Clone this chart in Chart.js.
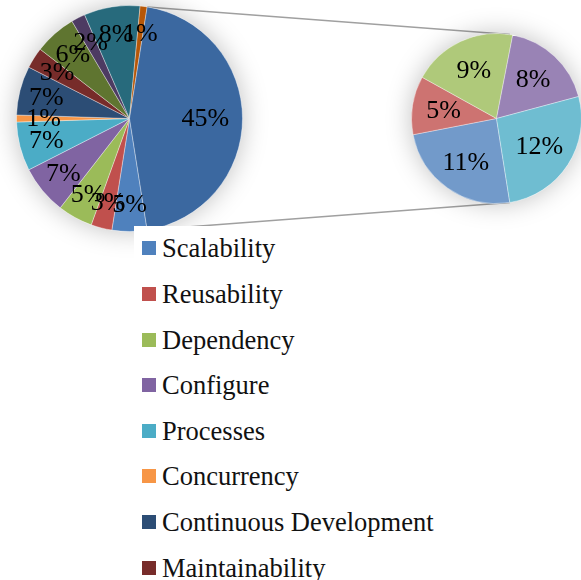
<!DOCTYPE html>
<html>
<head>
<meta charset="utf-8">
<script src="https://cdn.jsdelivr.net/npm/chart.js@4/dist/chart.umd.min.js"></script>
<style>
html, body { margin:0; padding:0; background:#fff; overflow:hidden; }
#marco { position:relative; width:581px; height:580px; overflow:hidden; }
canvas { position:absolute; }
#lineas { left:0; top:0; z-index:1; }
#pie1 { left:0; top:0; z-index:2; }
#pie2 { left:365px; top:0; z-index:2; }
#leyenda { position:absolute; left:134px; top:226px; width:330px; height:400px; background:#fff; z-index:3;
  font-family:'Liberation Serif','Times New Roman',serif; font-size:26.5px; color:#111; }
.item { position:absolute; left:0; height:30px; line-height:30px; white-space:nowrap; }
.caja { position:absolute; left:8px; top:8px; width:14px; height:14px; }
.texto { position:absolute; left:28px; top:0; }
</style>
</head>
<body>
<div id="marco">
  <canvas id="lineas" width="581" height="580"></canvas>
  <canvas id="pie1" width="300" height="260"></canvas>
  <canvas id="pie2" width="240" height="260"></canvas>
  <div id="leyenda"></div>
</div>
<script>
// categorias del pie principal (las que no se leen en la imagen quedan sin nombre)
const categorias = ['Scalability', 'Reusability', 'Dependency', 'Configure', 'Processes', 'Concurrency',
  'Continuous Development', 'Maintainability', '', '', '', ''];
const valores = [5, 3, 5, 7, 7, 1, 7, 3, 6, 2, 8, 1];
const colores = ['#4F81BD', '#C0504D', '#9BBB59', '#8064A2', '#4BACC6', '#F79646',
  '#2C4D75', '#772C2A', '#5F7530', '#4D3B62', '#276A7C', '#B65708'];

// segundo pie (desglose de "Other")
const categorias2 = ['', '', '', '', ''];
const valores2 = [11, 5, 9, 8, 12];
const colores2 = ['#729ACA', '#CD7371', '#AFC97A', '#9983B5', '#6FBDD1'];

const colorOtro = '#3B68A0';
const otro = valores2.reduce((a, b) => a + b, 0);
const total = valores.reduce((a, b) => a + b, 0) + otro;

const sombra = {
  id: 'sombra',
  beforeDatasetsDraw(chart) {
    const arc = chart.getDatasetMeta(0).data[0];
    const ctx = chart.ctx;
    ctx.save();
    ctx.shadowColor = 'rgba(0,0,0,0.25)';
    ctx.shadowBlur = 26;
    ctx.fillStyle = '#fff';
    ctx.beginPath();
    ctx.arc(arc.x, arc.y, arc.outerRadius, 0, Math.PI * 2);
    ctx.fill();
    ctx.restore();
  }
};

const etiquetas = {
  id: 'etiquetas',
  afterDatasetsDraw(chart, args, opts) {
    const ctx = chart.ctx;
    const meta = chart.getDatasetMeta(0);
    ctx.save();
    ctx.font = '26px "Liberation Serif"';
    ctx.fillStyle = '#000';
    ctx.textAlign = 'center';
    ctx.textBaseline = 'middle';
    meta.data.forEach((arc, i) => {
      const v = chart.data.datasets[0].data[i];
      const pct = Math.round(v / total * 100);
      const medio = (arc.startAngle + arc.endAngle) / 2;
      const f = (arc.endAngle - arc.startAngle) > Math.PI / 2 ? opts.grande : opts.radio;
      const x = arc.x + Math.cos(medio) * arc.outerRadius * f;
      const y = arc.y + Math.sin(medio) * arc.outerRadius * f;
      ctx.fillText(pct + '%', x, y + 1);
    });
    ctx.restore();
  }
};

const grafico1 = new Chart(document.getElementById('pie1'), {
  type: 'pie',
  data: {
    labels: [...categorias, 'Other'],
    datasets: [{
      data: [...valores, otro],
      backgroundColor: [...colores, colorOtro],
      borderColor: 'rgba(255,255,255,0.35)',
      borderWidth: 1
    }]
  },
  options: {
    responsive: false,
    animation: false,
    rotation: 171,
    layout: { padding: { left: 16, top: 5, right: 57, bottom: 28 } },
    plugins: {
      legend: { display: false },
      tooltip: { enabled: false },
      etiquetas: { radio: 0.76, grande: 0.67 }
    }
  },
  plugins: [sombra, etiquetas]
});

const grafico2 = new Chart(document.getElementById('pie2'), {
  type: 'pie',
  data: {
    labels: categorias2,
    datasets: [{
      data: valores2,
      backgroundColor: colores2,
      borderColor: 'rgba(255,255,255,0.35)',
      borderWidth: 1
    }]
  },
  options: {
    responsive: false,
    animation: false,
    rotation: 171,
    layout: { padding: { left: 46, top: 33, right: 23, bottom: 56 } },
    plugins: {
      legend: { display: false },
      tooltip: { enabled: false },
      etiquetas: { radio: 0.63, grande: 0.6 }
    }
  },
  plugins: [sombra, etiquetas]
});

// lineas que unen la porcion "Other" con el segundo pie
function dibujarConectores() {
  const ctx = document.getElementById('lineas').getContext('2d');
  const m1 = grafico1.getDatasetMeta(0).data;
  const arcOtro = m1[m1.length - 1];
  const arc2 = grafico2.getDatasetMeta(0).data[0];
  const c1 = grafico1.canvas, c2 = grafico2.canvas;
  ctx.strokeStyle = '#A0A0A0';
  ctx.lineWidth = 1.5;
  [arcOtro.startAngle, arcOtro.endAngle].forEach(ang => {
    ctx.beginPath();
    ctx.moveTo(c1.offsetLeft + arcOtro.x + Math.cos(ang) * arcOtro.outerRadius,
      c1.offsetTop + arcOtro.y + Math.sin(ang) * arcOtro.outerRadius);
    ctx.lineTo(c2.offsetLeft + arc2.x + Math.cos(ang) * arc2.outerRadius,
      c2.offsetTop + arc2.y + Math.sin(ang) * arc2.outerRadius);
    ctx.stroke();
  });
}
dibujarConectores();

// leyenda
const leyenda = document.getElementById('leyenda');
categorias.forEach((nombre, i) => {
  if (!nombre) return;
  const item = document.createElement('div');
  item.className = 'item';
  item.style.top = (7.3 + 45.6 * i) + 'px';
  item.innerHTML = '<span class="caja" style="background:' + colores[i] + '"></span><span class="texto">' + nombre + '</span>';
  leyenda.appendChild(item);
});
</script>
</body>
</html>
